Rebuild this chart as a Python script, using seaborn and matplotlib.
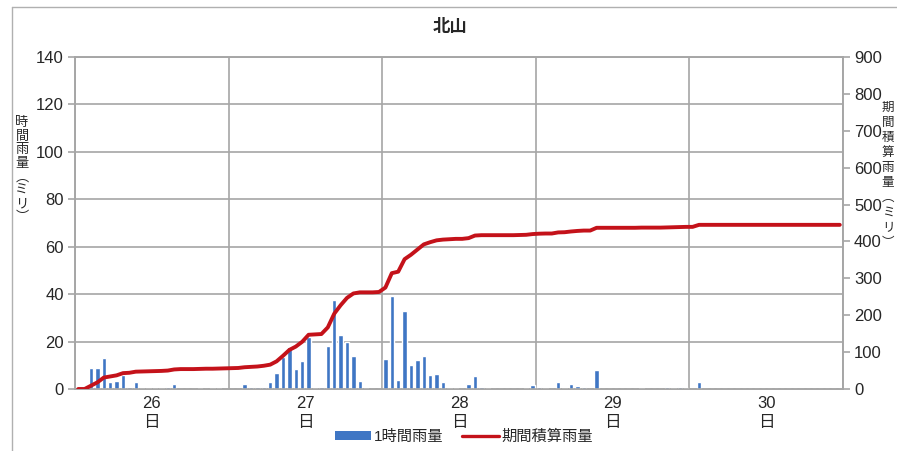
import numpy as np
import pandas as pd
import matplotlib
matplotlib.use('Agg')
import matplotlib.pyplot as plt
from matplotlib.lines import Line2D
from matplotlib.patches import Patch
import seaborn as sns

# hourly rainfall (mm), one list per day, hours 0..23
rain_26 = [0, 0, 9, 9, 13, 3, 3.3, 5.7, 1, 3, 0.5, 0.5, 0.5, 0.5, 0.7, 2, 0, 0, 0, 0.5, 0, 0.5, 0.5, 0]
rain_27 = [0, 0, 2.1, 1, 0.7, 1, 3.1, 6.9, 13.3, 17.9, 8.3, 11.7, 21.9, 0.3, 1, 18.1, 37.4, 22.6, 19.7, 13.9, 3.3, 0.5, 0, 0]
rain_28 = [12.6, 39.3, 3.9, 33.1, 10.3, 12.4, 13.9, 5.7, 6.4, 3.1, 0.5, 0.5, 0, 1.9, 5.3, 1, 0.5, 0, 0, 0, 0, 0, 0.5, 1.7]
rain_29 = [1, 0.5, 0, 2.9, 0.5, 2.1, 1.3, 0.9, 0, 7.9, 0, 0, 0, 0, 0, 0, 0.5, 0, 0, 0, 0.7, 0.5, 0.7, 0.5]
rain_30 = [0, 3, 0, 0, 0, 0, 0, 0, 0, 0, 0, 0, 0, 0, 0, 0, 0, 0, 0, 0, 0, 0, 0, 0]

# accumulated rainfall (mm)
cum_26 = [0, 0, 9, 18, 31, 34, 37, 43, 44, 47, 47.5, 48, 48.5, 49, 50, 53, 54, 54, 54, 54.5, 55, 55, 55.5, 56]
cum_27 = [56.5, 57, 59, 60, 61, 63, 66, 75, 90, 106, 115, 128, 147, 148, 149, 167, 204, 227, 247, 259, 262, 262, 262, 263]
cum_28 = [275, 314, 318, 352, 364, 378, 392, 398, 403, 405, 406, 407, 407, 409, 416, 417, 417, 417, 417, 417, 417, 417.5, 418, 420]
cum_29 = [421, 421.5, 421.5, 424.5, 425, 427, 428.5, 429.5, 429.5, 437, 437, 437, 437, 437, 437, 437, 437.5, 437.5, 437.5, 437.5, 438, 438.5, 439, 439.5]
cum_30 = [439.5, 445, 445, 445, 445, 445, 445, 445, 445, 445, 445, 445, 445, 445, 445, 445, 445, 445, 445, 445, 445, 445, 445, 445]

days = ['26', '27', '28', '29', '30']
left_ticks = [0, 20, 40, 60, 80, 100, 120, 140]
right_ticks = [0, 100, 200, 300, 400, 500, 600, 700, 800, 900]

hourly = rain_26 + rain_27 + rain_28 + rain_29 + rain_30
cumulative = cum_26 + cum_27 + cum_28 + cum_29 + cum_30
df = pd.DataFrame({'idx': np.arange(len(hourly)), 'rain': hourly, 'cum': cumulative})

sns.set_style('white')
plt.rcParams['font.family'] = ['Liberation Sans', 'Noto Sans CJK JP', 'DejaVu Sans']

fig = plt.figure(figsize=(8.97, 4.51), dpi=100)
ax = fig.add_axes([75 / 897, 1 - 389 / 451, (843 - 75) / 897, (389 - 57) / 451])

bar_color = '#3f76c4'
line_color = '#c4121a'
grid_color = '#a6a6a6'

sns.barplot(data=df, x='idx', y='rain', color=bar_color, width=0.68,
            saturation=1, ax=ax, zorder=3)
ax.set_xlim(-0.5, 119.5)
ax.set_ylim(0, 140)
ax.set_yticks(left_ticks)
ax.set_yticklabels([str(t) for t in left_ticks], fontsize=12)

# day boundaries as major ticks, labels at day centres
ax.set_xticks([-0.5 + 24 * i for i in range(6)])
ax.set_xticklabels([])
ax.set_xticks([11.5 + 24 * i for i in range(5)], minor=True)
ax.set_xticklabels([d + '\n日' for d in days], minor=True, fontsize=12, linespacing=1.35)
ax.tick_params(axis='x', which='minor', length=0, pad=5)
ax.tick_params(axis='x', which='major', length=5, color=grid_color, width=1.2)
ax.tick_params(axis='y', length=5, color=grid_color, width=1.2, pad=3)
ax.set_xlabel('')
ax.set_ylabel('')

ax.grid(True, which='major', color=grid_color, linewidth=1.2, zorder=0)
ax.set_axisbelow(True)
for side in ['left', 'right', 'bottom', 'top']:
    ax.spines[side].set_color(grid_color)
    ax.spines[side].set_linewidth(1.2)

ax2 = ax.twinx()
sns.lineplot(data=df, x='idx', y='cum', color=line_color, linewidth=2.8, ax=ax2, zorder=4)
ax2.set_ylim(0, 900)
ax2.set_yticks(right_ticks)
ax2.set_yticklabels([str(t) for t in right_ticks], fontsize=12)
ax2.tick_params(axis='y', length=5, color=grid_color, width=1.2, pad=3)
ax2.set_ylabel('')
ax2.grid(False)
for side in ['left', 'right', 'bottom', 'top']:
    ax2.spines[side].set_color(grid_color)
    ax2.spines[side].set_linewidth(1.2)

# title and vertical axis labels
fig.text(450 / 897, 1 - 27 / 451, '北山', ha='center', va='center',
         fontsize=12.5, fontweight='bold', family=['Noto Sans CJK JP'])
fig.text(22 / 897, 1 - 170 / 451, '時\n間\n雨\n量\n︵\nミ\nリ\n︶', ha='center', va='center',
         fontsize=9.5, linespacing=1.05, family=['Noto Sans CJK JP'])
fig.text(888 / 897, 1 - 175 / 451, '期\n間\n積\n算\n雨\n量\n︵\nミ\nリ\n︶', ha='center', va='center',
         fontsize=9, linespacing=1.2, family=['Noto Sans CJK JP'])

# outer chart frame
fig.add_artist(Line2D([12 / 897, 12 / 897], [0, 1 - 7 / 451], transform=fig.transFigure,
                      color='#b0b0b0', linewidth=1))
fig.add_artist(Line2D([12 / 897, 1], [1 - 7 / 451, 1 - 7 / 451], transform=fig.transFigure,
                      color='#b0b0b0', linewidth=1))

handles = [Patch(facecolor=bar_color, edgecolor='none'),
           Line2D([0], [0], color=line_color, linewidth=2.4)]
fig.legend(handles, ['1時間雨量', '期間積算雨量'], loc='center', ncol=2,
           bbox_to_anchor=(464 / 897, 1 - 437 / 451), frameon=False,
           handlelength=2.4, handleheight=0.5, columnspacing=1.2, handletextpad=0.2,
           prop={'family': ['Liberation Sans', 'Noto Sans CJK JP'], 'size': 11})

fig.savefig('out.png', dpi=100)
